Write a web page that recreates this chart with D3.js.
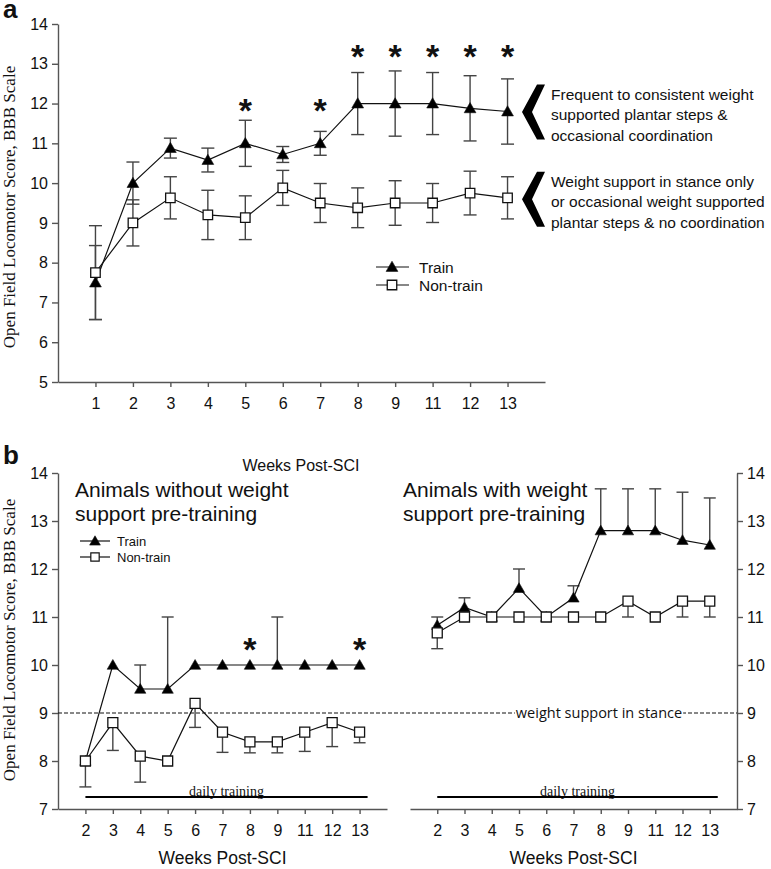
<!DOCTYPE html>
<html><head><meta charset="utf-8">
<script src="https://cdn.jsdelivr.net/npm/d3@7"></script>
<style>body{margin:0;background:#fff}svg{display:block}</style>
</head><body>
<svg id="c" width="771" height="869"></svg>
<script>
// ---------- Panel a data ----------
const weeksA = ["1","2","3","4","5","6","7","8","9","11","12","13"];
const trainA = [7.5,10.0,10.88,10.58,11.0,10.72,11.0,12.0,12.0,12.0,11.88,11.8];
const trainAErr = [0.93,0.53,0.25,0.3,0.58,0.2,0.3,0.78,0.82,0.78,0.82,0.82];
const nonTrainA = [7.75,9.0,9.63,9.2,9.13,9.88,9.5,9.38,9.5,9.5,9.75,9.63];
const nonTrainAErr = [1.18,0.58,0.53,0.62,0.55,0.44,0.49,0.5,0.56,0.49,0.55,0.53];
const starWeeksA = ["5","7","8","9","11","12","13"];
const starLevelsA = [12.0,12.0,13.35,13.35,13.35,13.35,13.35];
const yTicksA = [5,6,7,8,9,10,11,12,13,14];
const noteTrainA = ["Frequent to consistent weight","supported plantar steps &","occasional coordination"];
const noteNonTrainA = ["Weight support in stance only","or occasional weight supported","plantar steps & no coordination"];

// ---------- Panel b data ----------
const weeksB = ["2","3","4","5","6","7","8","9","11","12","13"];
const trainNoWS = [8.0,10.0,9.5,9.5,10.0,10.0,10.0,10.0,10.0,10.0,10.0];
const trainNoWSErr = [0,0,0.5,1.5,0,0,0,1.0,0,0,0];
const nonTrainNoWS = [8.0,8.8,8.1,8.0,9.2,8.6,8.4,8.4,8.6,8.8,8.6];
const nonTrainNoWSErr = [0.54,0.58,0.54,0,0.5,0.42,0.23,0.23,0.4,0.5,0.22];
const trainWS = [10.83,11.2,11.0,11.6,11.0,11.4,12.8,12.8,12.8,12.6,12.5];
const trainWSErr = [0.17,0.2,0,0.4,0,0.25,0.87,0.87,0.87,1.0,0.98];
const nonTrainWS = [10.67,11.0,11.0,11.0,11.0,11.0,11.0,11.33,11.0,11.33,11.33];
const nonTrainWSErr = [0.33,0,0,0,0,0,0,0.33,0,0.33,0.33];
const starWeeksNoWS = ["8","13"];
const starLevelsNoWS = [10.46,10.46];
const yTicksB = [7,8,9,10,11,12,13,14];
const stanceLevel = 9;

const SANS = "'Liberation Sans', Arial, sans-serif";
const SERIF = "'Liberation Serif', 'Times New Roman', serif";
const AXC = "#555";
const ERRC = "#444";
const fmt = d3.format("d");

const svg = d3.select("#c");

// scales
const yA = d3.scaleLinear().domain([5,14]).range([382,24]);
const xA = d3.scalePoint().domain(weeksA).range([58,545]).padding(1);
const yB = d3.scaleLinear().domain([7,14]).range([809,473]);
const xBL = d3.scalePoint().domain(weeksB).range([58,387]).padding(1);
const xBR = d3.scalePoint().domain(weeksB).range([410,737]).padding(1);

function styleAxis(g, fs){
  g.select(".domain").attr("stroke",AXC).attr("stroke-width",1.4);
  g.selectAll(".tick line").attr("stroke",AXC).attr("stroke-width",1.4);
  g.selectAll(".tick text").attr("font-family",SANS).attr("font-size",fs).attr("fill","#111");
}

// ---------- axes panel a ----------
svg.append("g").attr("transform","translate(58,0)")
  .call(d3.axisLeft(yA).tickValues(yTicksA).tickFormat(fmt).tickSize(6).tickSizeOuter(0).tickPadding(4))
  .call(g=>styleAxis(g,16));
svg.append("g").attr("transform","translate(0,382)")
  .call(d3.axisBottom(xA).tickSize(5).tickSizeOuter(0).tickPadding(11))
  .call(g=>styleAxis(g,16));

// ---------- axes panel b ----------
svg.append("g").attr("transform","translate(58,0)")
  .call(d3.axisLeft(yB).tickValues(yTicksB).tickFormat(fmt).tickSize(6).tickSizeOuter(0).tickPadding(4))
  .call(g=>styleAxis(g,16));
svg.append("g").attr("transform","translate(737,0)")
  .call(d3.axisRight(yB).tickValues(yTicksB).tickFormat(fmt).tickSize(6).tickSizeOuter(0).tickPadding(4))
  .call(g=>styleAxis(g,16));
svg.append("g").attr("transform","translate(0,809)")
  .call(d3.axisBottom(xBL).tickSize(5).tickSizeOuter(0).tickPadding(11))
  .call(g=>styleAxis(g,16));
svg.append("g").attr("transform","translate(0,809)")
  .call(d3.axisBottom(xBR).tickSize(5).tickSizeOuter(0).tickPadding(11))
  .call(g=>styleAxis(g,16));

// ---------- labels ----------
function txt(x,y,s,opts={}){
  return svg.append("text").attr("x",x).attr("y",y).text(s)
    .attr("font-family",opts.ff||SANS).attr("font-size",opts.fs||16)
    .attr("font-weight",opts.fw||"normal").attr("text-anchor",opts.anchor||"start")
    .attr("fill",opts.fill||"#111");
}
txt(3,18,"a",{fs:26,fw:"bold"});
txt(3,464,"b",{fs:26,fw:"bold"});
svg.append("text").attr("transform","translate(15,207) rotate(-90)").attr("text-anchor","middle")
  .attr("font-family",SERIF).attr("font-size",17).attr("fill","#111")
  .text("Open Field Locomotor Score, BBB Scale");
svg.append("text").attr("transform","translate(15,640) rotate(-90)").attr("text-anchor","middle")
  .attr("font-family",SERIF).attr("font-size",17).attr("fill","#111")
  .text("Open Field Locomotor Score, BBB Scale");
txt(301,471,"Weeks Post-SCI",{fs:16,anchor:"middle"});
txt((58+387)/2,864,"Weeks Post-SCI",{fs:17.5,anchor:"middle"});
txt((410+737)/2,864,"Weeks Post-SCI",{fs:17.5,anchor:"middle"});

// ---------- series drawing ----------
const triangle = d3.symbol().type(d3.symbolTriangle);
const square = d3.symbol().type(d3.symbolSquare);

function errBars(x,y,weeks,vals,errs,dir,capW){
  const g = svg.append("g").attr("stroke",ERRC).attr("stroke-width",1.4).attr("fill","none");
  vals.forEach((v,i)=>{
    const e = errs[i]; if(!e) return;
    const cx = x(weeks[i]);
    const top = dir==="down" ? v : v+e;
    const bot = dir==="up" ? v : v-e;
    g.append("line").attr("x1",cx).attr("x2",cx).attr("y1",y(top)).attr("y2",y(bot));
    if(dir!=="down") g.append("line").attr("x1",cx-capW/2).attr("x2",cx+capW/2).attr("y1",y(top)).attr("y2",y(top));
    if(dir!=="up") g.append("line").attr("x1",cx-capW/2).attr("x2",cx+capW/2).attr("y1",y(bot)).attr("y2",y(bot));
  });
}
function seriesLine(x,y,weeks,vals){
  svg.append("path").datum(vals)
    .attr("d",d3.line().x((d,i)=>x(weeks[i])).y(d=>y(d)))
    .attr("fill","none").attr("stroke","#111").attr("stroke-width",1.2);
}
function markers(x,y,weeks,vals,kind,size){
  svg.append("g").selectAll("path").data(vals).join("path")
    .attr("transform",(d,i)=>`translate(${x(weeks[i])},${y(d) + (kind==="tri"?1:0)})`)
    .attr("d",(kind==="tri"?triangle:square).size(size)())
    .attr("fill",kind==="tri"?"#000":"#fff")
    .attr("stroke","#111").attr("stroke-width",kind==="tri"?0.6:1.3);
}
function stars(x,y,weeks,levels){
  svg.append("g").selectAll("text").data(levels).join("text")
    .attr("x",(d,i)=>x(weeks[i])).attr("y",d=>y(d)+18)
    .attr("text-anchor","middle").attr("font-family",SANS).attr("font-weight","bold")
    .attr("font-size",34).attr("fill","#111").text("*");
}

// panel a
errBars(xA,yA,weeksA,trainA,trainAErr,"both",13);
errBars(xA,yA,weeksA,nonTrainA,nonTrainAErr,"both",13);
seriesLine(xA,yA,weeksA,trainA);
seriesLine(xA,yA,weeksA,nonTrainA);
markers(xA,yA,weeksA,trainA,"tri",60);
markers(xA,yA,weeksA,nonTrainA,"sq",90);
stars(xA,yA,starWeeksA,starLevelsA);

// legend a
[["Train","tri",267],["Non-train","sq",285]].forEach(([lab,kind,ly])=>{
  svg.append("line").attr("x1",376).attr("x2",409).attr("y1",ly).attr("y2",ly).attr("stroke","#111").attr("stroke-width",1.2);
  svg.append("path").attr("transform",`translate(392,${ly+(kind==="tri"?1:0)})`)
    .attr("d",(kind==="tri"?triangle:square).size(kind==="tri"?60:90)())
    .attr("fill",kind==="tri"?"#000":"#fff").attr("stroke","#111").attr("stroke-width",kind==="tri"?0.6:1.3);
  txt(419,ly+5.5,lab,{fs:15.5});
});

// annotations a (chevrons aligned with final values)
function chevron(tipX,cy){
  const pts=[[0,0],[15,-27.5],[23,-27.5],[10,0],[23,27.5],[15,27.5]];
  svg.append("path").attr("d",d3.line()(pts.map(p=>[tipX+p[0],cy+p[1]]))+"Z").attr("fill","#000");
}
[[trainA[trainA.length-1],noteTrainA,0],[nonTrainA[nonTrainA.length-1],noteNonTrainA,1]].forEach(([v,lines,k])=>{
  const cy = yA(v)+ (k===0?0.5:1.5);
  chevron(522,cy);
  lines.forEach((s,j)=>txt(551,cy-12.5+j*20.5,s,{fs:15.5}));
});

// panel b: dashed stance line
svg.append("line").attr("x1",58).attr("x2",737).attr("y1",yB(stanceLevel)).attr("y2",yB(stanceLevel))
  .attr("stroke","#111").attr("stroke-width",1).attr("stroke-dasharray","4,2");
const stBg = svg.append("rect").attr("fill","#fff");
const stLbl = txt(599,yB(stanceLevel)+5,"weight support in stance",{ff:"'Open Sans', sans-serif",fs:14.5,anchor:"middle"});
const bb = stLbl.node().getBBox();
stBg.attr("x",bb.x-1).attr("y",bb.y+2).attr("width",bb.width+2).attr("height",bb.height-4);

// daily training bars
[xBL,xBR].forEach(x=>{
  const x1 = x("2"), x2 = x("13")+8;
  svg.append("line").attr("x1",x1).attr("x2",x2).attr("y1",797).attr("y2",797).attr("stroke","#000").attr("stroke-width",2);
  txt((x1+x2)/2,795.5,"daily training",{ff:SERIF,fs:14,anchor:"middle"});
});

// panel b left
errBars(xBL,yB,weeksB,trainNoWS,trainNoWSErr,"up",12);
errBars(xBL,yB,weeksB,nonTrainNoWS,nonTrainNoWSErr,"down",12);
seriesLine(xBL,yB,weeksB,trainNoWS);
seriesLine(xBL,yB,weeksB,nonTrainNoWS);
markers(xBL,yB,weeksB,trainNoWS,"tri",55);
markers(xBL,yB,weeksB,nonTrainNoWS,"sq",100);
stars(xBL,yB,starWeeksNoWS,starLevelsNoWS);

// panel b right
errBars(xBR,yB,weeksB,trainWS,trainWSErr,"up",12);
errBars(xBR,yB,weeksB,nonTrainWS,nonTrainWSErr,"down",12);
seriesLine(xBR,yB,weeksB,trainWS);
seriesLine(xBR,yB,weeksB,nonTrainWS);
markers(xBR,yB,weeksB,trainWS,"tri",55);
markers(xBR,yB,weeksB,nonTrainWS,"sq",100);

// titles b
txt(75,497,"Animals without weight",{fs:21});
txt(75,521,"support pre-training",{fs:21});
txt(403,497,"Animals with weight",{fs:21});
txt(403,521,"support pre-training",{fs:21});

// legend b
[["Train","tri",541],["Non-train","sq",557]].forEach(([lab,kind,ly])=>{
  svg.append("line").attr("x1",80).attr("x2",110).attr("y1",ly).attr("y2",ly).attr("stroke","#111").attr("stroke-width",1.2);
  svg.append("path").attr("transform",`translate(95,${ly+(kind==="tri"?1:0)})`)
    .attr("d",(kind==="tri"?triangle:square).size(kind==="tri"?50:70)())
    .attr("fill",kind==="tri"?"#000":"#fff").attr("stroke","#111").attr("stroke-width",kind==="tri"?0.6:1.2);
  txt(117,ly+4.5,lab,{fs:13});
});
</script>
</body></html>
